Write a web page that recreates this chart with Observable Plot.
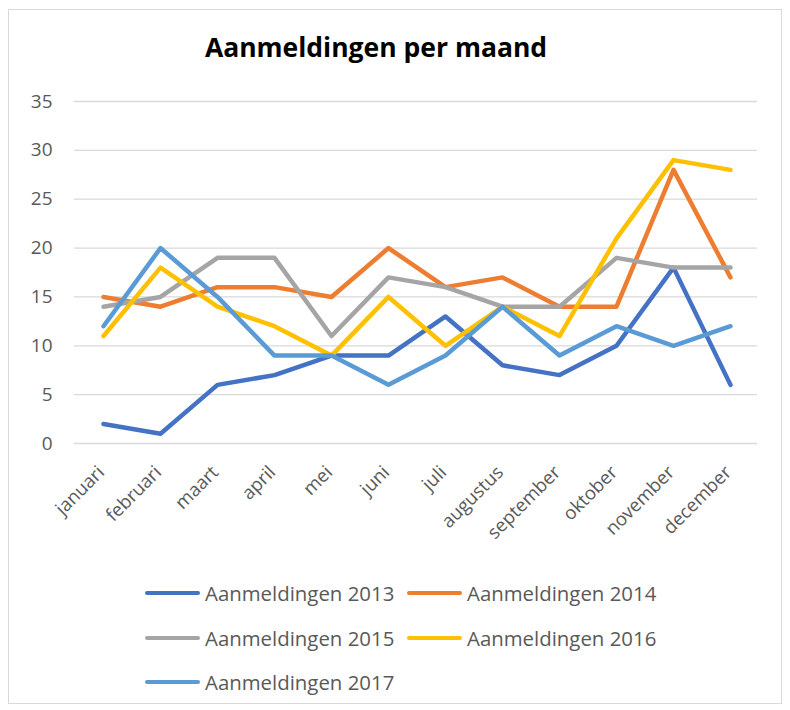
<!DOCTYPE html>
<html>
<head>
<meta charset="utf-8">
<script src="https://cdn.jsdelivr.net/npm/d3@7"></script>
<script src="https://cdn.jsdelivr.net/npm/@observablehq/plot@0.6"></script>
<style>
  html, body { margin: 0; padding: 0; background: #fff; }
  body { width: 790px; height: 710px; position: relative; overflow: hidden; font-family: "Open Sans", sans-serif; }
  #frame { position: absolute; left: 8px; top: 9px; width: 774px; height: 695px; border: 1px solid #d9d9d9; box-sizing: border-box; }
  #title { position: absolute; left: 176px; width: 400px; top: 29px; text-align: center; font-family: "Open Sans", sans-serif; font-weight: 700; font-size: 26.5px; color: #000; line-height: 36px; white-space: nowrap; }
  #chart { position: absolute; left: 0; top: 80px; }
  .leg { position: absolute; display: flex; align-items: center; font-size: 20.4px; color: #595959; white-space: nowrap; }
  .leg .sw { width: 55px; height: 4.5px; border-radius: 2.25px; margin-right: 5px; }
</style>
</head>
<body>
<div id="frame"></div>
<div id="title">Aanmeldingen per maand</div>
<div id="chart"></div>
<div id="legend"></div>
<script>
const months = ["januari","februari","maart","april","mei","juni","juli","augustus","september","oktober","november","december"];
const seriesNames = ["Aanmeldingen 2013","Aanmeldingen 2014","Aanmeldingen 2015","Aanmeldingen 2016","Aanmeldingen 2017"];
const values2013 = [2, 1, 6, 7, 9, 9, 13, 8, 7, 10, 18, 6];
const values2014 = [15, 14, 16, 16, 15, 20, 16, 17, 14, 14, 28, 17];
const values2015 = [14, 15, 19, 19, 11, 17, 16, 14, 14, 19, 18, 18];
const values2016 = [11, 18, 14, 12, 9, 15, 10, 14, 11, 21, 29, 28];
const values2017 = [12, 20, 15, 9, 9, 6, 9, 14, 9, 12, 10, 12];
const colors = ["#4472C4","#ED7D31","#A5A5A5","#FFC000","#5B9BD5"];
const yTicks = [0, 5, 10, 15, 20, 25, 30, 35];

const allValues = [values2013, values2014, values2015, values2016, values2017];
const data = [];
seriesNames.forEach((s, si) => {
  allValues[si].forEach((v, mi) => data.push({series: s, month: months[mi], value: v}));
});

const plot = Plot.plot({
  width: 790,
  height: 480,
  marginLeft: 74,
  marginRight: 33,
  marginTop: 21,
  marginBottom: 117,
  style: {fontFamily: "Open Sans, sans-serif", background: "transparent"},
  x: {type: "point", domain: months, range: [102.5, 729.5], padding: 0, axis: null},
  y: {domain: [0, 35], axis: null},
  color: {domain: seriesNames, range: colors},
  marks: [
    Plot.ruleY(yTicks, {stroke: "#d9d9d9", strokeWidth: 1.3}),
    Plot.text(yTicks, {y: d => d, text: d => String(d), frameAnchor: "left", textAnchor: "end", dx: -22, fontSize: 19, fill: "#595959"}),
    Plot.line(data, {x: "month", y: "value", z: "series", stroke: "series", strokeWidth: 4.5, strokeLinejoin: "round", strokeLinecap: "round"}),
    Plot.text(months, {x: d => d, text: d => d, frameAnchor: "bottom", rotate: -45, textAnchor: "end", lineAnchor: "bottom", dx: 2, dy: 30, fontSize: 18.5, fill: "#595959"})
  ]
});
document.getElementById("chart").appendChild(plot);

const legendPos = [[145, 593], [407, 593], [145, 638], [407, 638], [145, 682]];
const legend = document.getElementById("legend");
seriesNames.forEach((s, i) => {
  const item = document.createElement("div");
  item.className = "leg";
  item.style.left = legendPos[i][0] + "px";
  item.style.top = (legendPos[i][1] - 14) + "px";
  item.style.height = "28px";
  const sw = document.createElement("div");
  sw.className = "sw";
  sw.style.background = colors[i];
  const tx = document.createElement("span");
  tx.textContent = s;
  item.appendChild(sw);
  item.appendChild(tx);
  legend.appendChild(item);
});
</script>
</body>
</html>
